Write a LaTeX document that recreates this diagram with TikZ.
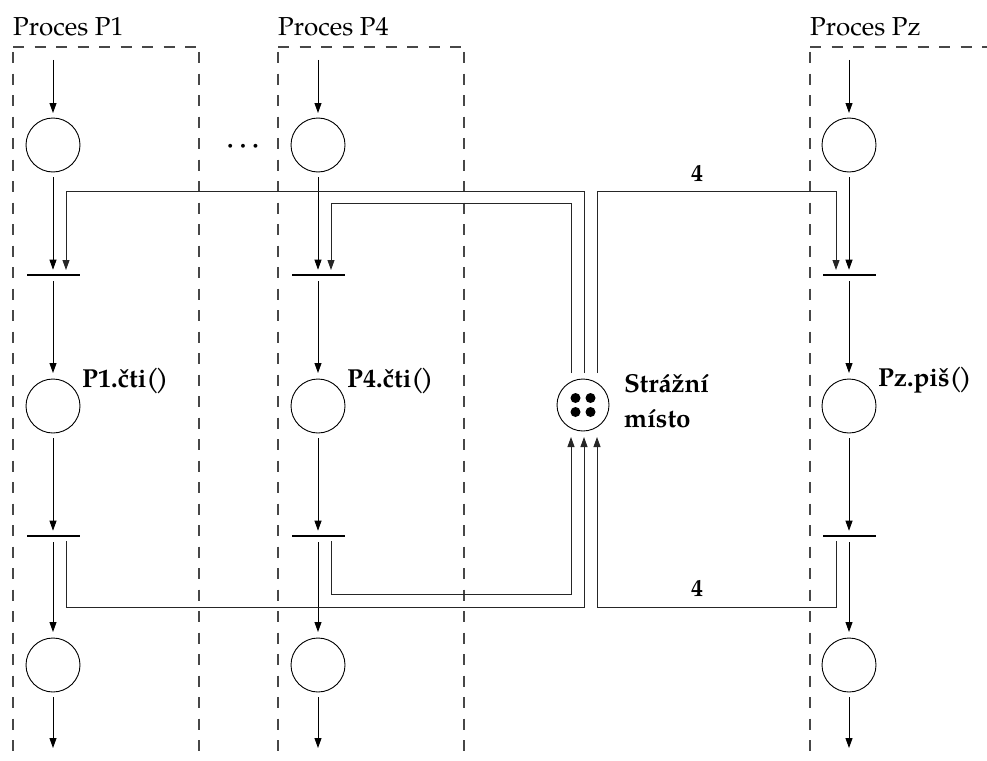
\documentclass[tikz,border=0pt]{standalone}
\usepackage{fontspec}
\setmainfont{TeX Gyre Pagella}
\usetikzlibrary{arrows.meta}
\begin{document}
\begin{tikzpicture}[x=1pt,y=-1pt,
  place/.style={circle,draw,line width=0.9pt,minimum size=54pt,inner sep=0pt,outer sep=0pt},
  trans/.style={rectangle,fill=black,minimum width=53pt,minimum height=2.6pt,inner sep=0pt,outer sep=0pt},
  arr/.style={-{Triangle[length=10pt,width=7pt]},line width=0.9pt},
  conn/.style={line width=0.9pt,black!85},
  box/.style={dash pattern=on 11pt off 10.5pt,line width=1.3pt,black!72},
  lbl/.style={font=\fontsize{26}{35}\selectfont\bfseries,inner sep=0pt,anchor=base west},
  ttl/.style={font=\fontsize{26}{30}\selectfont,inner sep=0pt,anchor=base west},
  wgt/.style={font=\fontsize{24}{28}\selectfont\bfseries,inner sep=0pt},
  ellip/.style={font=\fontsize{34}{38}\selectfont\boldmath,inner sep=0pt,anchor=base}]
\useasboundingbox (0,0) rectangle (987,760);

% process boxes
\draw[box] (13,47) -- (199,47);
\draw[box,dash phase=16.5pt] (13,47) -- (13,760);
\draw[box,dash phase=16.5pt] (199,47) -- (199,760);
\draw[box] (278,47) -- (464,47);
\draw[box,dash phase=16.5pt] (278,47) -- (278,760);
\draw[box,dash phase=16.5pt] (464,47) -- (464,760);
\draw[box] (810,47) -- (987,47);
\draw[box,dash phase=16.5pt] (810,47) -- (810,760);

\node[ttl] (h1) at (13,36) {Proces P1};
\node[ttl] (h4) at (278,36) {Proces P4};
\node[ttl] (hz) at (810,36) {Proces Pz};

\node[ellip] (dots) at (243,152) {$\cdots$};

% columns
\foreach \n/\x in {1/53,4/318,z/849}{
  \coordinate (s\n) at (\x,60);
  \node[place] (a\n) at (\x,145) {};
  \node[trans] (ta\n) at (\x,275) {};
  \node[place] (b\n) at (\x,406) {};
  \node[trans] (tb\n) at (\x,536) {};
  \node[place] (c\n) at (\x,665) {};
  \coordinate (e\n) at (\x,748);
  \draw[arr,shorten >=5pt] (s\n) -- (a\n);
  \draw[arr,shorten <=5pt,shorten >=4pt] (a\n) -- (ta\n);
  \draw[arr,shorten <=5pt,shorten >=6pt] (ta\n) -- (b\n);
  \draw[arr,shorten <=5pt,shorten >=4pt] (b\n) -- (tb\n);
  \draw[arr,shorten <=5pt,shorten >=6pt] (tb\n) -- (c\n);
  \draw[arr,shorten <=5pt] (c\n) -- (e\n);
}

\node[lbl] (l1) at ([xshift=29pt,yshift=19pt]b1.center) {P1.čti(\kern-3.5pt)};
\node[lbl] (l4) at ([xshift=29pt,yshift=19pt]b4.center) {P4.čti(\kern-3.5pt)};
\node[lbl] (lz) at ([xshift=29pt,yshift=20pt]bz.center) {Pz.piš(\kern-3.5pt)};

% guard place
\node[place,minimum size=52pt] (g) at (583,405) {};
\fill (g.center) ++(-7.5,-7) circle (5pt);
\fill (g.center) ++(7.5,-7) circle (5pt);
\fill (g.center) ++(-7.5,7) circle (5pt);
\fill (g.center) ++(7.5,7) circle (5pt);
\node[lbl,align=left] (lg) at (624,427) {Strážní\\místo};

% guard -> transitions
\draw[conn,arr] ([xshift=1pt,yshift=6pt]g.north) |- ([xshift=13pt,yshift=84pt]ta1.center) -- ([xshift=13pt,yshift=5pt]ta1.center);
\draw[conn,arr] ([xshift=-12pt,yshift=6pt]g.north) |- ([xshift=13pt,yshift=72pt]ta4.center) -- ([xshift=13pt,yshift=5pt]ta4.center);
\draw[conn,arr] ([xshift=14pt,yshift=6pt]g.north) |- ([xshift=-13pt,yshift=84pt]taz.center) -- ([xshift=-13pt,yshift=5pt]taz.center);
\node[wgt] (w1) at (697,173) {4};

% transitions -> guard
\draw[conn,arr] ([xshift=13pt,yshift=-5pt]tb1.center) |- ([xshift=1pt,yshift=-176pt]g.south) -- ([xshift=1pt,yshift=-6pt]g.south);
\draw[conn,arr] ([xshift=13pt,yshift=-5pt]tb4.center) |- ([xshift=-12pt,yshift=-163pt]g.south) -- ([xshift=-12pt,yshift=-6pt]g.south);
\draw[conn,arr] ([xshift=-13pt,yshift=-5pt]tbz.center) |- ([xshift=14pt,yshift=-176pt]g.south) -- ([xshift=14pt,yshift=-6pt]g.south);
\node[wgt] (w2) at (697,588) {4};
\end{tikzpicture}
\end{document}
